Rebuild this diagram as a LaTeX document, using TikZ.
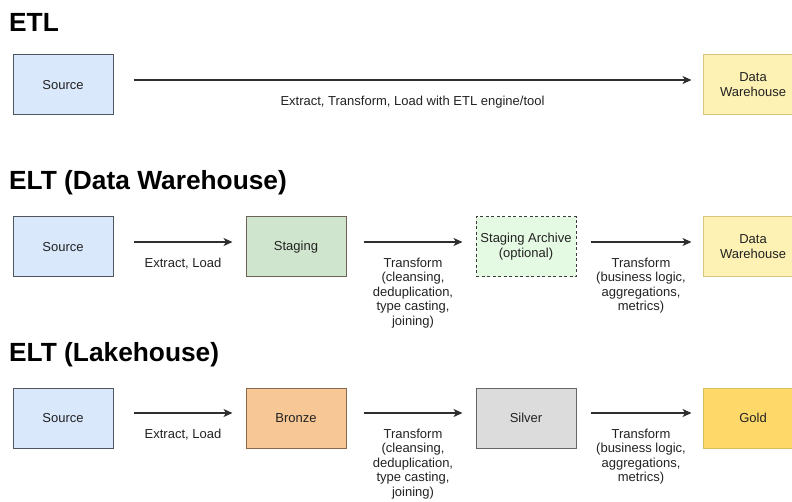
\documentclass[tikz,border=0pt]{standalone}
\usepackage{fontspec}
\setmainfont{Liberation Sans}
\usetikzlibrary{arrows.meta}
\definecolor{srcfill}{HTML}{DAE8FC}
\definecolor{srcdraw}{HTML}{50565E}
\definecolor{stgfill}{HTML}{CFE5CD}
\definecolor{stgdraw}{HTML}{6E6354}
\definecolor{arcfill}{HTML}{E5FAE3}
\definecolor{arcdraw}{HTML}{3A3A3A}
\definecolor{dwfill}{HTML}{FDF1B4}
\definecolor{dwdraw}{HTML}{D8C57E}
\definecolor{brzfill}{HTML}{F7C795}
\definecolor{brzdraw}{HTML}{8A6A4E}
\definecolor{slvfill}{HTML}{DCDCDD}
\definecolor{slvdraw}{HTML}{62676C}
\definecolor{gldfill}{HTML}{FED96A}
\definecolor{glddraw}{HTML}{D8BE5E}
\definecolor{txt}{HTML}{222222}
\definecolor{arrc}{HTML}{2E2E2E}
\tikzset{
  box/.style={draw, line width=1pt, minimum width=100pt, minimum height=60pt,
    inner sep=0pt, align=center, font=\fontsize{13}{15}\selectfont, text=txt},
  srcbox/.style={box, fill=srcfill, draw=srcdraw},
  stgbox/.style={box, fill=stgfill, draw=stgdraw},
  arcbox/.style={box, fill=arcfill, draw=arcdraw, dashed, dash pattern=on 3pt off 2.5pt},
  dwbox/.style={box, fill=dwfill, draw=dwdraw},
  brzbox/.style={box, fill=brzfill, draw=brzdraw},
  slvbox/.style={box, fill=slvfill, draw=slvdraw},
  gldbox/.style={box, fill=gldfill, draw=glddraw},
  arr/.style={draw=arrc, line width=1.3pt, -{Stealth[length=9pt,width=8pt,inset=2.5pt]}},
  lbl/.style={inner sep=0pt, align=center, text=txt, font=\fontsize{13}{14.6}\selectfont},
  ttl/.style={inner sep=0pt, anchor=base west, text=black, font=\fontsize{26.3}{28}\selectfont\bfseries}
}
\begin{document}
\begin{tikzpicture}[x=1pt,y=-1pt]
\useasboundingbox (0,0) rectangle (792,502);
\fill[white] (0,0) rectangle (792,502);

% ETL
\node[ttl] (t1) at (9,32) {ETL};
\node[srcbox] (s1) at (63,85) {Source};
\node[dwbox] (d1) at (753,85) {Data\\Warehouse};
\draw[arr] ([xshift=20pt,yshift=5pt]s1.east) -- ([xshift=-11pt,yshift=5pt]d1.west)
  node[midway, below=15pt, lbl] (l1) {Extract, Transform, Load with ETL engine/tool};

% ELT (Data Warehouse)
\node[ttl] (t2) at (9,190) {ELT (Data Warehouse)};
\node[srcbox] (s2) at (63,247) {Source};
\node[stgbox] (st2) at (296,247) {Staging};
\node[arcbox] (ar2) at (526,247) {Staging Archive\\(optional)};
\node[dwbox] (d2) at (753,247) {Data\\Warehouse};
\draw[arr] ([xshift=20pt,yshift=5pt]s2.east) -- ([xshift=-13pt,yshift=5pt]st2.west)
  node[midway, below=15pt, lbl] (l21) {Extract, Load};
\draw[arr] ([xshift=17pt,yshift=5pt]st2.east) -- ([xshift=-13pt,yshift=5pt]ar2.west)
  node[midway, below=15pt, lbl] (l22) {Transform\\(cleansing,\\deduplication,\\type casting,\\joining)};
\draw[arr] ([xshift=14pt,yshift=5pt]ar2.east) -- ([xshift=-11pt,yshift=5pt]d2.west)
  node[midway, below=15pt, lbl] (l23) {Transform\\(business logic,\\aggregations,\\metrics)};

% ELT (Lakehouse)
\node[ttl] (t3) at (9,362) {ELT (Lakehouse)};
\node[srcbox] (s3) at (63,418) {Source};
\node[brzbox] (b3) at (296,418) {Bronze};
\node[slvbox] (sv3) at (526,418) {Silver};
\node[gldbox] (g3) at (753,418) {Gold};
\draw[arr] ([xshift=20pt,yshift=5pt]s3.east) -- ([xshift=-13pt,yshift=5pt]b3.west)
  node[midway, below=15pt, lbl] (l31) {Extract, Load};
\draw[arr] ([xshift=17pt,yshift=5pt]b3.east) -- ([xshift=-13pt,yshift=5pt]sv3.west)
  node[midway, below=15pt, lbl] (l32) {Transform\\(cleansing,\\deduplication,\\type casting,\\joining)};
\draw[arr] ([xshift=14pt,yshift=5pt]sv3.east) -- ([xshift=-11pt,yshift=5pt]g3.west)
  node[midway, below=15pt, lbl] (l33) {Transform\\(business logic,\\aggregations,\\metrics)};
\end{tikzpicture}
\end{document}
